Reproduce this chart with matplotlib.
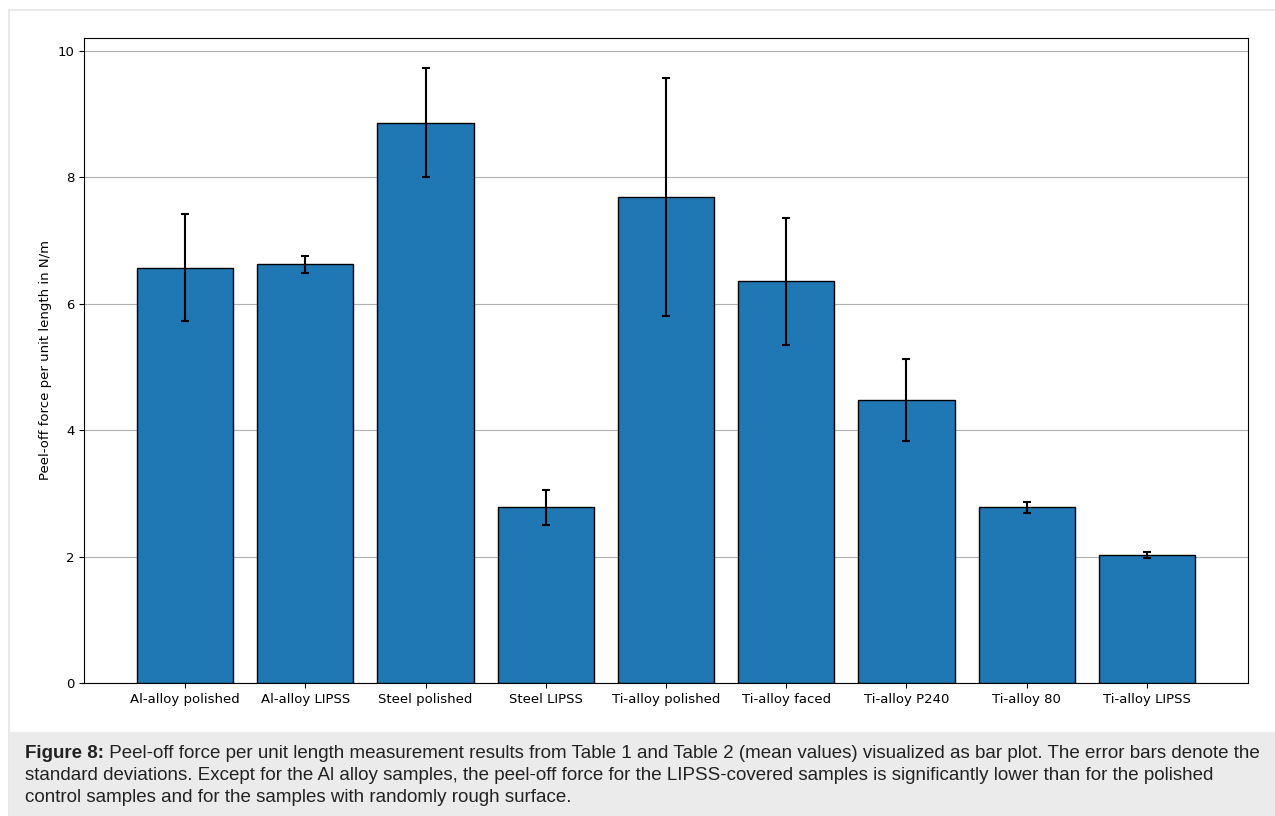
import numpy as np
import matplotlib.pyplot as plt
from matplotlib.patches import Rectangle

# peel-off force per unit length, mean and standard deviation (N/m)
samples = ['Al-alloy polished', 'Al-alloy LIPSS', 'Steel polished', 'Steel LIPSS',
           'Ti-alloy polished', 'Ti-alloy faced', 'Ti-alloy P240', 'Ti-alloy 80',
           'Ti-alloy LIPSS']
force_mean = [6.57, 6.62, 8.86, 2.78, 7.68, 6.35, 4.48, 2.78, 2.02]
force_std = [0.85, 0.14, 0.86, 0.28, 1.88, 1.0, 0.65, 0.09, 0.05]

caption_head = 'Figure 8:'
caption_lines = [
    ' Peel-off force per unit length measurement results from Table 1 and Table 2 (mean values) visualized as bar plot. The error bars denote the',
    'standard deviations. Except for the Al alloy samples, the peel-off force for the LIPSS-covered samples is significantly lower than for the polished',
    'control samples and for the samples with randomly rough surface.',
]

W, H = 1275, 816
fig = plt.figure(figsize=(W / 100, H / 100), dpi=100)

# frame and caption box
fig.patches.append(Rectangle((9 / W, 0), 1.2, (H - 10) / H, transform=fig.transFigure,
                             facecolor='white', edgecolor='#e4e4e4', lw=1.2, zorder=-3))
fig.patches.append(Rectangle((9 / W, 0), 1.2, (H - 732) / H, transform=fig.transFigure,
                             facecolor='#ebebeb', edgecolor='none', zorder=-2))

ax = fig.add_axes([84 / W, (H - 683) / H, (1248 - 84) / W, (683 - 38) / H])
x = np.arange(len(samples))
ax.bar(x, force_mean, width=0.8, yerr=force_std, color='#1f77b4', edgecolor='black',
       linewidth=1.0, capsize=3, error_kw=dict(elinewidth=1.5, capthick=1.5), zorder=3)
ax.set_xticks(x)
ax.set_xticklabels(samples, fontsize=9.5)
ax.set_ylim(0, 10.2)
ax.set_yticks([0, 2, 4, 6, 8, 10])
ax.tick_params(axis='y', labelsize=9.5)
ax.set_ylabel('Peel-off force per unit length in N/m', fontsize=9.5)
ax.yaxis.grid(True, color='#b0b0b0', lw=0.8)
ax.set_axisbelow(True)

# caption, bold label then the running text
fs = 13.5
t = fig.text(25 / W, 1 - 758 / H, caption_head, fontsize=fs, fontweight='bold',
             family='Liberation Sans', color='#222222', va='baseline')
fig.canvas.draw()
bb = t.get_window_extent(fig.canvas.get_renderer())
fig.text(bb.x1 / W, 1 - 758 / H, caption_lines[0], fontsize=fs, family='Liberation Sans',
         color='#222222', va='baseline')
for i, line in enumerate(caption_lines[1:]):
    fig.text(25 / W, 1 - (758 + 22 * (i + 1)) / H, line, fontsize=fs,
             family='Liberation Sans', color='#222222', va='baseline')

fig.savefig('out.png', dpi=100)
